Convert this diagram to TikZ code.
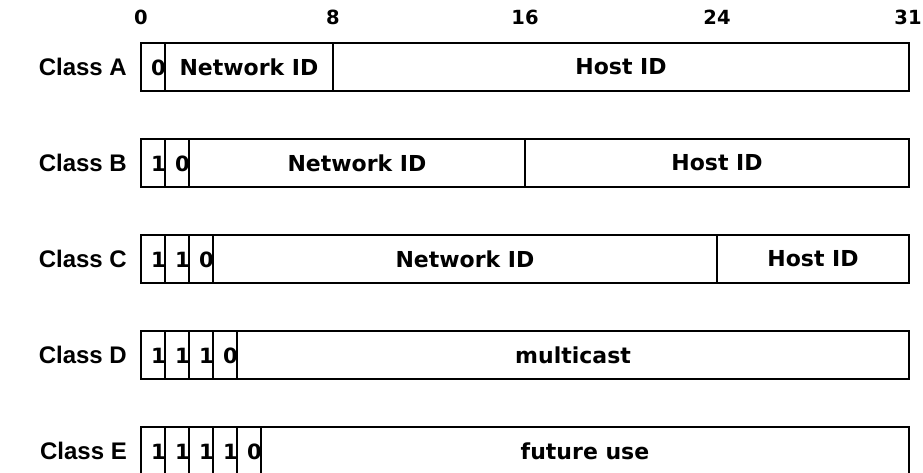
\documentclass[tikz,border=0pt]{standalone}
\usepackage{fontspec}
\newfontfamily\classfont{Liberation Sans}
\newfontfamily\fieldfont{DejaVu Sans}
\begin{document}
\begin{tikzpicture}[x=1pt,y=-1pt,
  frame/.style={draw, line width=2.8pt, minimum width=768pt, minimum height=48pt, inner sep=0pt},
  divider/.style={line width=2pt},
  boundary/.style={line width=2.8pt},
  classlabel/.style={anchor=east, font=\classfont\bfseries\fontsize{24}{24}\selectfont, inner sep=0pt},
  fieldtext/.style={font=\fieldfont\bfseries\fontsize{22}{22}\selectfont, inner sep=0pt},
  bittext/.style={anchor=east, font=\fieldfont\bfseries\fontsize{21}{21}\selectfont, inner sep=0pt},
  scalelabel/.style={font=\fieldfont\bfseries\fontsize{19.5}{20}\selectfont, inner sep=0pt}
]
\useasboundingbox (0,0) rectangle (923,473);

% bit position scale
\node[scalelabel] (s0)  at (141,17) {0};
\node[scalelabel] (s8)  at (333,17) {8};
\node[scalelabel] (s16) at (525,17) {16};
\node[scalelabel] (s24) at (717,17) {24};
\node[scalelabel] (s31) at (908,17) {31};

% ---------- Class A ----------
\node[classlabel] (la) at (127,67) {Class A};
\node[frame] (ra) at (525,67) {};
\draw[divider] (165,43) -- (165,91);
\draw[boundary] (333,43) -- (333,91);
\node[bittext] (a0) at (166,68) {0};
\node[fieldtext] (anet) at (249,67) {Network ID};
\node[fieldtext] (ahost) at (621,67) {Host ID};

% ---------- Class B ----------
\node[classlabel] (lb) at (127,163) {Class B};
\node[frame] (rb) at (525,163) {};
\draw[divider] (165,139) -- (165,187);
\draw[boundary] (189,139) -- (189,187);
\draw[boundary] (525,139) -- (525,187);
\node[bittext] (b0) at (166,164) {1};
\node[bittext] (b1) at (190,164) {0};
\node[fieldtext] (bnet) at (357,163) {Network ID};
\node[fieldtext] (bhost) at (717,163) {Host ID};

% ---------- Class C ----------
\node[classlabel] (lc) at (127,259) {Class C};
\node[frame] (rc) at (525,259) {};
\draw[divider] (165,235) -- (165,283);
\draw[divider] (189,235) -- (189,283);
\draw[boundary] (213,235) -- (213,283);
\draw[boundary] (717,235) -- (717,283);
\node[bittext] (c0) at (166,260) {1};
\node[bittext] (c1) at (190,260) {1};
\node[bittext] (c2) at (214,260) {0};
\node[fieldtext] (cnet) at (465,259) {Network ID};
\node[fieldtext] (chost) at (813,259) {Host ID};

% ---------- Class D ----------
\node[classlabel] (ld) at (127,355) {Class D};
\node[frame] (rd) at (525,355) {};
\draw[divider] (165,331) -- (165,379);
\draw[divider] (189,331) -- (189,379);
\draw[divider] (213,331) -- (213,379);
\draw[boundary] (237,331) -- (237,379);
\node[bittext] (d0) at (166,356) {1};
\node[bittext] (d1) at (190,356) {1};
\node[bittext] (d2) at (214,356) {1};
\node[bittext] (d3) at (238,356) {0};
\node[fieldtext] (dmc) at (573,355) {multicast};

% ---------- Class E ----------
\node[classlabel] (le) at (127,451) {Class E};
\node[frame] (re) at (525,451) {};
\draw[divider] (165,427) -- (165,475);
\draw[divider] (189,427) -- (189,475);
\draw[divider] (213,427) -- (213,475);
\draw[divider] (237,427) -- (237,475);
\draw[boundary] (261,427) -- (261,475);
\node[bittext] (e0) at (166,452) {1};
\node[bittext] (e1) at (190,452) {1};
\node[bittext] (e2) at (214,452) {1};
\node[bittext] (e3) at (238,452) {1};
\node[bittext] (e4) at (262,452) {0};
\node[fieldtext] (efu) at (585,451) {future use};
\end{tikzpicture}
\end{document}
